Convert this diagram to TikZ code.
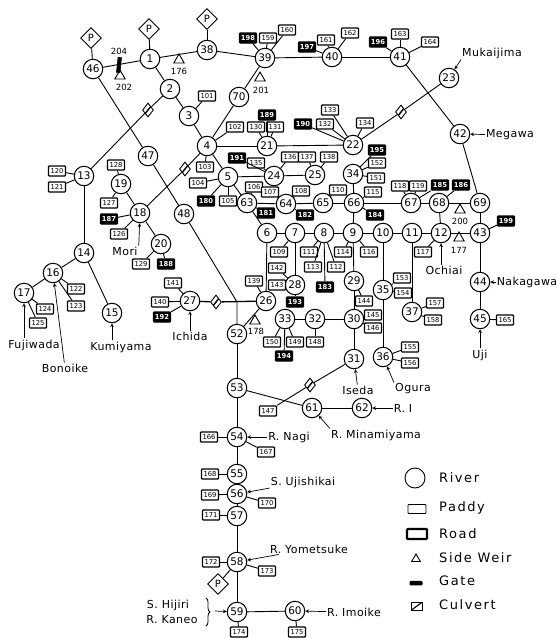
\documentclass[tikz,border=0pt]{standalone}
\usepackage{fontspec}
\setmainfont{DejaVu Sans}
\newfontfamily\placefont[LetterSpace=4]{DejaVu Sans}
\newfontfamily\legendfont[LetterSpace=12]{DejaVu Sans}
\usetikzlibrary{shapes.geometric,decorations.pathreplacing}
\tikzset{
  river/.style={circle,draw,fill=white,line width=1pt,minimum size=19.5pt,inner sep=0pt,font=\fontsize{10.5}{10.5}\selectfont},
  paddy/.style={draw,fill=white,rounded corners=0.8pt,line width=1.3pt,minimum width=17pt,minimum height=10pt,inner sep=0pt,font=\fontsize{6.8}{6.8}\selectfont},
  road/.style={paddy,fill=black,text=white,font=\bfseries\fontsize{6.8}{6.8}\selectfont},
  pump/.style={diamond,draw,fill=white,line width=0.9pt,minimum width=21pt,minimum height=21pt,inner sep=0pt,font=\fontsize{10}{10}\selectfont},
  culvert/.style={diamond,draw,fill=white,line width=0.9pt,minimum width=11pt,minimum height=14pt,inner sep=0pt,
    path picture={\draw[line width=1.4pt](path picture bounding box.south west)--(path picture bounding box.north east);}},
  weir/.style={regular polygon,regular polygon sides=3,draw,fill=white,line width=0.9pt,minimum size=12pt,inner sep=0pt},
  place/.style={inner sep=1pt,font=\placefont\fontsize{11}{11}\selectfont},
  small/.style={inner sep=0pt,font=\fontsize{8.5}{8.5}\selectfont},
  link/.style={line width=0.9pt},
  lead/.style={->,line width=0.7pt}
}
\begin{document}
\begin{tikzpicture}[x=1pt,y=-1pt,>=stealth]
  \useasboundingbox (0,0) rectangle (557,638);
  % rivers
  \foreach \n/\x/\y in {46/93/69,1/150/59,38/207/50,39/265/58,40/332/57,41/400/57,23/449/78,42/460/134,
    2/170/89,3/189/116,70/239/97,4/207/146,21/267/146,22/353/145,13/84/176,47/148/156,19/121/184,18/140/213,
    48/184/214,14/84/253,16/53/273,17/24/293,15/112/313,20/161/244,5/228/177,24/274/176,25/315/175,34/353/174,
    63/247/203,64/286/204,65/323/203,66/354/203,67/411/203,68/439/203,69/480/203,6/267/233,7/295/233,8/324/233,
    9/353/233,10/383/233,11/412/233,12/441/233,43/480/233,44/480/282,45/480/319,28/295/285,29/354/281,30/354/319,
    35/383/290,37/412/312,36/383/357,31/354/359,32/315/319,33/285/319,26/266/301,27/190/301,52/237/334,53/237/388,
    61/312/408,62/362/408,54/237/437,55/237/474,56/237/494,57/237/516,58/237/562,59/237/612,60/295/611}
    \node[river] (r\n) at (\x,\y) {\n};
  % paddy
  \foreach \n/\x/\y in {159/268/38,160/287/30,161/326/40,162/350/33,163/400/34,164/430/42,101/207/96,102/235/127,
    130/256/127,131/275/127,132/325/124,133/330/110,134/365/123,152/377/163,151/376/178,110/338/190,115/373/192,
    118/400/186,119/418/186,117/423/252,135/256/163,136/290/157,137/307/157,138/329/157,104/198/183,103/205/167,
    105/228/201,106/254/187,107/270/192,108/301/191,109/279/252,111/309/252,113/313/267,112/336/267,114/343/252,
    116/369/252,142/277/268,143/277/285,139/254/281,144/364/301,145/373/315,146/373/328,153/402/278,154/403/293,
    157/435/303,158/433/320,155/410/347,156/410/363,150/272/342,149/295/342,148/315/342,120/57/171,121/57/187,
    128/116/165,127/109/203,126/119/234,129/141/264,122/76/289,123/76/306,124/45/309,125/38/323,141/173/283,
    140/160/302,147/268/411,166/209/437,167/266/452,168/210/474,169/210/495,170/267/503,171/211/515,172/211/562,
    173/267/571,174/239/632,175/297/632,165/505/320}
    \node[paddy] (b\n) at (\x,\y) {\n};
  % road
  \foreach \n/\x/\y in {198/248/38,197/307/47,196/378/42,189/267/115,190/303/124,195/377/150,184/375/215,182/305/215,
    185/440/185,186/461/185,199/506/221,191/237/158,180/206/201,181/266/213,183/325/287,193/295/302,194/284/356,
    187/109/219,188/166/264,192/162/317}
    \node[road] (b\n) at (\x,\y) {\n};
  % pumps, culverts, weirs
  \foreach \n/\x/\y in {a/91/38,b/149/29,c/207/19,d/218/584}
    \node[pump] (p\n) at (\x,\y) {P};
  \foreach \n/\x/\y in {a/148/110,b/185/169,c/401/112,d/216/302,e/310/385}
    \node[culvert] (c\n) at (\x,\y) {};
  \foreach \n/\x/\y in {176/179/60,202/120/76,201/260/78,200/460/210,177/459/238,178/255/321}
    \node[weir] (w\n) at (\x,\y) {};
  \foreach \n/\x/\y in {176/179/71,202/124/87,204/119/51,201/261/90,200/460/221,177/459/250,178/256/331}
    \node[small] (t\n) at (\x,\y) {\n};
  \node[draw,fill=black,line width=0.6pt,rotate=-6,minimum width=3.5pt,minimum height=15pt,inner sep=0pt] (gate) at (119,65) {};
  \coordinate (jct) at (237,302);
  % main links
  \foreach \a/\b in {46/1,1/38,38/39,39/40,40/41,1/2,2/3,3/4,4/70,70/39,4/21,21/22,41/42,42/69,46/47,47/48,13/14,14/15,
    14/16,16/17,18/19,18/20,4/5,5/24,24/25,5/63,63/64,64/65,65/66,66/67,67/68,68/69,34/66,63/6,6/7,7/8,8/9,9/10,10/11,
    11/12,12/43,43/69,12/68,43/44,44/45,9/66,6/26,7/28,9/29,29/30,30/31,30/32,32/33,10/35,35/36,11/37,26/52,52/53,53/61,
    61/62,53/54,54/55,55/56,56/57,57/58,58/59,59/60}
    \draw[link] (r\a)--(r\b);
  \draw[link] (r2)--(ca)--(r13);
  \draw[link] (r4)--(cb)--(r18);
  \draw[link] (r22)--(cc)--(r23);
  \draw[line width=1.3pt] (r27)--(cd)--(r26);
  \draw[link] (r31)--(ce)--(b147);
  \draw[link] (r48)--(jct)--(r52);
  % box links
  \foreach \a/\b in {39/198,39/159,39/160,40/197,40/161,40/162,41/196,41/163,41/164,3/101,4/102,4/103,21/130,21/131,21/189,
    22/190,22/132,22/133,22/134,34/195,34/152,34/151,65/110,66/115,66/184,64/107,64/108,64/182,63/106,63/181,5/104,5/105,5/180,
    24/191,24/135,24/136,25/137,25/138,67/118,67/119,67/185,68/186,43/199,12/117,18/187,18/126,19/128,19/127,20/129,20/188,
    13/120,13/121,16/122,16/123,17/124,17/125,27/141,27/140,27/192,26/139,28/142,28/143,28/193,7/109,8/111,8/113,8/112,8/183,
    9/114,9/116,29/144,30/145,30/146,35/153,35/154,37/157,37/158,36/155,36/156,33/150,33/149,33/194,32/148,45/165,54/166,
    54/167,55/168,56/169,56/170,57/171,58/172,58/173,59/174,60/175}
    \draw[link] (r\a)--(b\b);
  \draw[link] (r46)--(pa);
  \draw[link] (r1)--(pb);
  \draw[link] (r38)--(pc);
  \draw[link] (r58)--(pd);
  % place names
  \foreach \n/\x/\y/\t in {muk/492/53/Mukaijima,meg/510/135/Megawa,mori/125/251/Mori,fuj/34/345/Fujiwada,bon/65/368/Bonoike,
    kum/121/347/Kumiyama,ichi/190/336/Ichida,och/444/270/Ochiai,nak/527/282/Nakagawa,uji/480/355/Uji,ise/358/390/Iseda,
    ogu/413/389/Ogura,ri/403/408/{R. I},mina/376/435/{R. Minamiyama},nag/289/437/{R. Nagi},uj/303/482/{S. Ujishikai},
    yom/309/549/{R. Yometsuke},hij/168/605/{S. Hijiri},kan/172/620/{R. Kaneo},imo/354/612/{R. Imoike}}
    \node[place] (l\n) at (\x,\y) {\t};
  \foreach \a/\b in {meg/42,bon/16,ichi/27,nak/44,uji/45,ise/31,ri/62,nag/54,uj/56,yom/58,imo/60}
    \draw[lead] (l\a)--(r\b);
  \draw[lead] (lmuk.south west)--(r23);
  \draw[lead] (lmori.north east)--(r18);
  \draw[lead] (logu.north west)--(r36);
  \draw[lead] (lmina.north west)--(r61);
  \draw[lead] (lfuj.north -| r17)--(r17);
  \draw[lead] (lkum.north -| r15)--(r15);
  \draw[lead] (loch.north -| r12)--(r12);
  \draw[decorate,decoration={brace,amplitude=4pt},line width=0.8pt] (206,598)--(206,626);
  \coordinate (hijtip) at (215,611);
  \draw[lead] (hijtip)--(r59);
  % legend
  \node[circle,draw,line width=0.9pt,minimum size=20pt,inner sep=0pt] (kriver) at (415,478) {};
  \node[draw,rounded corners=0.8pt,line width=0.8pt,minimum width=18pt,minimum height=9pt,inner sep=0pt] (kpaddy) at (417,509) {};
  \node[draw,rounded corners=0.8pt,line width=2.2pt,minimum width=20pt,minimum height=10pt,inner sep=0pt] (kroad) at (417,534) {};
  \node[regular polygon,regular polygon sides=3,draw,line width=0.9pt,minimum size=10pt,inner sep=0pt] (kweir) at (416,559) {};
  \node[fill=black,rounded corners=1pt,minimum width=13pt,minimum height=4.5pt,inner sep=0pt] (kgate) at (416,583) {};
  \node[draw,line width=1pt,minimum width=11pt,minimum height=8pt,inner sep=0pt,
    path picture={\draw[line width=1.1pt](path picture bounding box.south west)--(path picture bounding box.north east);}] (kculv) at (417,606) {};
  \foreach \n/\y/\t in {a/478/River,b/508/Paddy,c/534/Road,d/558/Side Weir,e/581/Gate,f/605/Culvert}
    \node[anchor=west,inner sep=0pt,font=\legendfont\fontsize{13}{13}\selectfont] (k\n) at (439,\y) {\t};
\end{tikzpicture}
\end{document}
